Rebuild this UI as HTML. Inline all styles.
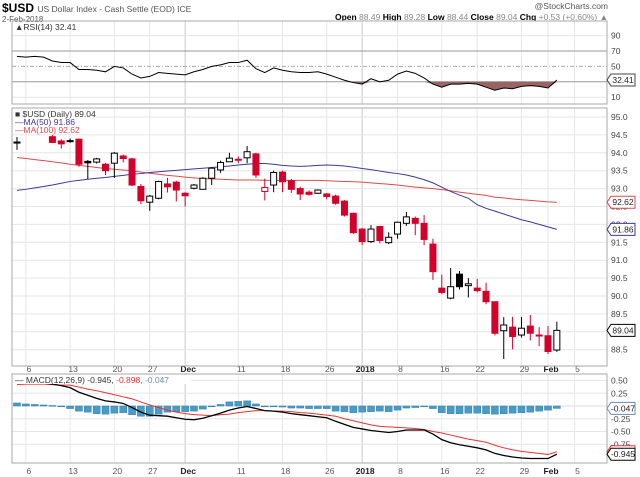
<!DOCTYPE html>
<html><head><meta charset="utf-8"><style>
html,body{margin:0;padding:0;background:#fff;}
svg{display:block;font-family:"Liberation Sans",sans-serif;}
</style></head><body>
<svg id="chart" width="640" height="477" viewBox="0 0 640 477">
<text x="2" y="12" font-size="12" font-weight="bold" fill="#000">$USD <tspan font-size="8.5" font-weight="normal" fill="#555">US Dollar Index - Cash Settle (EOD) ICE</tspan></text>
<text x="2" y="22" font-size="8" fill="#555">2-Feb-2018</text>
<text x="608" y="9" font-size="8.5" fill="#555" text-anchor="end">@StockCharts.com</text>
<text x="608" y="20" font-size="8.5" fill="#888" text-anchor="end"><tspan font-weight="bold" fill="#000">Open</tspan> 88.49 <tspan font-weight="bold" fill="#000">High</tspan> 89.28 <tspan font-weight="bold" fill="#000">Low</tspan> 88.44 <tspan font-weight="bold" fill="#000">Close</tspan> 89.04 <tspan font-weight="bold" fill="#000">Chg</tspan> +0.53 (+0.60%) ▲</text>
<g id="g"></g>
</svg>
<script>
const dayLabels=["6","13","20","27","Dec","11","18","26","2018","8","16","22","29","Feb","5"];
const dayLabelIdx=[1,6,11,15,19,25,30,35,39,43,48,52,57,60,63];
const openV=[94.3,94.65,94.8,94.7,94.45,94.33,94.34,94.38,93.76,93.74,93.68,93.71,93.91,93.83,93.06,92.62,92.73,93.13,93.18,92.87,93.01,92.98,93.29,93.52,93.75,93.82,93.86,93.97,92.92,93.10,93.46,93.22,93.0,92.9,92.87,92.85,92.79,92.65,92.31,91.87,91.52,91.94,91.49,91.73,92.03,92.17,92.03,91.45,90.22,89.94,90.61,90.29,90.22,90.13,89.84,89.03,89.13,88.91,89.16,88.91,88.89,88.49];
const highV=[94.44,94.8,94.95,94.85,94.5,94.38,94.4,94.4,93.8,93.86,93.72,94.02,93.95,93.86,93.13,92.82,93.22,93.3,93.22,92.9,93.13,93.32,93.6,93.78,94.0,93.9,94.19,94.0,93.28,93.5,93.5,93.27,93.05,92.95,92.98,92.88,92.83,92.68,92.33,91.9,91.98,91.96,91.78,92.08,92.35,92.22,92.26,91.6,90.6,90.78,90.7,90.5,90.48,90.37,89.84,89.41,89.42,89.41,89.47,89.13,89.16,89.28];
const lowV=[94.08,94.6,94.65,94.6,94.27,94.12,94.28,93.61,93.27,93.7,93.38,93.3,93.73,93.07,92.57,92.38,92.7,92.89,92.64,92.5,92.98,92.98,93.1,93.44,93.76,93.71,93.71,93.3,92.67,92.9,92.9,92.88,92.68,92.8,92.85,92.7,92.55,92.22,91.73,91.42,91.48,91.47,91.45,91.6,91.96,91.7,91.42,90.45,90.05,89.91,90.18,89.96,90.1,89.77,88.9,88.24,88.51,88.84,88.76,88.6,88.38,88.44];
const closeV=[94.3,94.75,94.72,94.62,94.29,94.25,94.34,93.68,93.72,93.83,93.5,93.99,93.84,93.10,92.66,92.79,93.2,93.05,92.96,92.80,93.10,93.29,93.57,93.73,93.85,93.82,94.03,93.38,93.03,93.45,93.19,92.98,92.85,92.84,92.96,92.78,92.59,92.26,91.77,91.52,91.87,91.55,91.64,92.06,92.21,92.03,91.58,90.68,90.10,90.26,90.26,90.34,90.15,89.84,88.96,89.19,88.87,89.10,88.96,88.91,88.45,89.04];
const ma50=[92.95,92.98,93.02,93.06,93.10,93.15,93.20,93.23,93.26,93.29,93.31,93.34,93.37,93.40,93.42,93.45,93.47,93.49,93.51,93.53,93.55,93.57,93.59,93.61,93.63,93.66,93.68,93.70,93.70,93.68,93.65,93.63,93.62,93.63,93.65,93.66,93.65,93.63,93.60,93.56,93.53,93.49,93.45,93.42,93.38,93.32,93.25,93.16,93.04,92.92,92.82,92.73,92.55,92.45,92.37,92.29,92.21,92.13,92.07,92.00,91.93,91.86];
const ma100=[93.87,93.84,93.81,93.78,93.75,93.72,93.68,93.65,93.62,93.59,93.56,93.54,93.52,93.50,93.46,93.43,93.40,93.37,93.35,93.32,93.30,93.28,93.27,93.26,93.25,93.24,93.24,93.24,93.23,93.23,93.23,93.23,93.23,93.23,93.23,93.22,93.21,93.20,93.19,93.18,93.16,93.14,93.12,93.10,93.07,93.04,93.02,93.00,92.97,92.94,92.90,92.87,92.84,92.81,92.76,92.74,92.71,92.69,92.67,92.65,92.63,92.62];
const rsiV=[63,62,63,62,57,55,55,46,46,45,43,50,48,40,35,37,42,41,40,39,43,46,50,52,55,55,58,47,42,48,45,43,42,42,43,40,36,32,29,27,34,30,32,40,44,41,35,27,23,27,27,28,27,23,19,22,21,24,25,24,22,32.41];
const macdV=[0.48,0.47,0.46,0.45,0.43,0.40,0.36,0.27,0.21,0.15,0.10,0.08,0.05,-0.03,-0.12,-0.18,-0.19,-0.20,-0.23,-0.26,-0.27,-0.24,-0.19,-0.14,-0.08,-0.04,-0.01,-0.05,-0.09,-0.10,-0.12,-0.15,-0.17,-0.19,-0.21,-0.23,-0.30,-0.36,-0.42,-0.45,-0.48,-0.50,-0.52,-0.50,-0.47,-0.47,-0.47,-0.55,-0.66,-0.72,-0.76,-0.79,-0.82,-0.86,-0.93,-0.97,-1.00,-1.02,-1.03,-1.03,-1.03,-0.945];
const signalV=[0.42,0.43,0.43,0.43,0.42,0.41,0.41,0.37,0.33,0.30,0.26,0.22,0.18,0.14,0.08,0.02,-0.03,-0.08,-0.12,-0.15,-0.17,-0.18,-0.19,-0.17,-0.16,-0.13,-0.11,-0.09,-0.09,-0.10,-0.10,-0.11,-0.13,-0.14,-0.16,-0.18,-0.20,-0.25,-0.29,-0.33,-0.37,-0.40,-0.41,-0.42,-0.43,-0.44,-0.46,-0.50,-0.53,-0.57,-0.61,-0.65,-0.68,-0.71,-0.77,-0.82,-0.86,-0.89,-0.91,-0.93,-0.95,-0.898];
const priceTicks=[95.0,94.5,94.0,93.5,93.0,92.5,92.0,91.5,91.0,90.5,90.0,89.5,89.0,88.5];
const rsiTicks=[90,70,50,30,10];
const macdTicks=[0.5,0.25,0,-0.25,-0.5,-0.75];

const NS="http://www.w3.org/2000/svg";
const G=document.getElementById('g');
const L=12,R=607;
const xs=i=>17+8.85*i;
const yP=p=>117+(95-p)*35.8;
const yR=v=>51+(70-v)*0.77;
const yM=v=>406-v*51;
function mk(t,a,parent){const e=document.createElementNS(NS,t);for(const k in a)e.setAttribute(k,a[k]);(parent||G).appendChild(e);return e;}
function txt(x,y,s,a){const e=mk('text',Object.assign({x:x,y:y,'font-size':8.5,fill:'#444'},a||{}));e.textContent=s;return e;}

const panels=[[21,104,'rsi-panel'],[108,366,'price-panel'],[374,463,'macd-panel']];
panels.forEach(p=>{
  dayLabelIdx.forEach((d,k)=>{
    const dark=(dayLabels[k]==='Dec'||dayLabels[k]==='2018');
    const l=mk('line',{x1:xs(d),x2:xs(d),y1:p[0],y2:p[1],stroke:dark?'#c8c8c8':'#e6e6e6','stroke-width':1});
    
    
  });
});
priceTicks.forEach(t=>{
  const l=mk('line',{x1:L,x2:R,y1:yP(t),y2:yP(t),stroke:'#e6e6e6'});
  
  
  const e=txt(611,yP(t)+3,t.toFixed(1));
  
  
});
rsiTicks.forEach(t=>{
  const strong=(t===70||t===30);
  const l=mk('line',{x1:L,x2:R,y1:yR(t),y2:yR(t),stroke:strong?'#999':(t===50?'#aaa':'#e6e6e6'),'stroke-dasharray':t===50?'4,2,1,2':'none'});
  
  
  if(t!==30){const e=txt(611,yR(t)+3,String(t));
  
  }
});
macdTicks.forEach(t=>{
  const l=mk('line',{x1:L,x2:R,y1:yM(t),y2:yM(t),stroke:t===0?'#ddd':'#e6e6e6'});
  
  
  if(t!==0){const e=txt(611,yM(t)+3,t.toFixed(2));
  
  }
});
let fillPts=[];
rsiV.forEach((v,i)=>fillPts.push(xs(i)+','+yR(Math.min(v,30))));
const rf=mk('polygon',{points:xs(0)+','+yR(30)+' '+fillPts.join(' ')+' '+xs(rsiV.length-1)+','+yR(30),fill:'#9a6464'});


const rl=mk('polyline',{points:rsiV.map((v,i)=>xs(i)+','+yR(v)).join(' '),fill:'none',stroke:'#000','stroke-width':1});


const m1=mk('polyline',{points:ma100.map((v,i)=>xs(i)+','+yP(v)).join(' '),fill:'none',stroke:'#e04a4a','stroke-width':1});


const m2=mk('polyline',{points:ma50.map((v,i)=>xs(i)+','+yP(v)).join(' '),fill:'none',stroke:'#3a3a9a','stroke-width':1});


closeV.forEach((c,i)=>{
  const o=openV[i],prev=i>0?closeV[i-1]:o;
  const col=(c<prev)?'#d2002a':'#000';
  const hollow=c>o;
  const w=mk('line',{x1:xs(i),x2:xs(i),y1:yP(highV[i]),y2:yP(lowV[i]),stroke:col,'stroke-width':1});
  
  
  const top=yP(Math.max(o,c)),bot=yP(Math.min(o,c));
  const b=mk('rect',{x:xs(i)-3,y:top,width:6,height:Math.max(1,bot-top),fill:hollow?'#fff':col,stroke:col,'stroke-width':1});
  
  
});
macdV.forEach((m,i)=>{
  const h=m-signalV[i];
  const y0=yM(0),y1=yM(h);
  const b=mk('rect',{x:xs(i)-3.5,y:Math.min(y0,y1),width:7,height:Math.max(0.8,Math.abs(y1-y0)),fill:'#4a9cc8',stroke:'#2d7aa6','stroke-width':0.5});
  
  
});
const sl=mk('polyline',{points:signalV.map((v,i)=>xs(i)+','+yM(v)).join(' '),fill:'none',stroke:'#f03030','stroke-width':1});


const ml=mk('polyline',{points:macdV.map((v,i)=>xs(i)+','+yM(v)).join(' '),fill:'none',stroke:'#000','stroke-width':1.3});


dayLabelIdx.forEach((d,k)=>{
  const bold=(dayLabels[k]==='Dec'||dayLabels[k]==='2018'||dayLabels[k]==='Feb');
  [372,474].forEach(y=>{
    const e=txt(xs(d)+3,y,dayLabels[k],{'text-anchor':'middle','font-weight':bold?'bold':'normal',fill:bold?'#222':'#555'});
    
    
  });
});
function legend(x,y,w,h,name){const r=mk('rect',{x:x,y:y,width:w,height:h,fill:'#fff'});}
legend(13,22,60,9,'rsi-legend-bg');
let e=txt(15,30,'\u25B2RSI(14) 32.41',{fill:'#333'});


legend(13,109,80,25,'price-legend-bg');
e=txt(15,117,'\u25A0 $USD (Daily) 89.04',{fill:'#333'});


e=txt(15,125,'\u2014MA(50) 91.86',{fill:'#3a3a9a'});


e=txt(15,133,'\u2014MA(100) 92.62',{fill:'#e04a4a'});


legend(13,375,178,9,'macd-legend-bg');
e=txt(15,383,'',{fill:'#333'});
e.innerHTML='<tspan>\u2014 MACD(12,26,9) -0.945, </tspan><tspan fill="#f03030">-0.898, </tspan><tspan fill="#6a8ab8">-0.047</tspan>';


panels.forEach(p=>{
  const r=mk('rect',{x:L,y:p[0],width:R-L,height:p[1]-p[0],fill:'none',stroke:'#aaa','stroke-width':1});
  
  
});
function tag(y,s,col,name){
  const g=mk('g',{});
  
  
  mk('polygon',{points:`${R},${y} ${R+4},${y-6} ${R+28},${y-6} ${R+28},${y+6} ${R+4},${y+6}`,fill:'#fff',stroke:col,'stroke-width':1},g);
  const t=mk('text',{x:R+16,y:y+3,'font-size':8.5,'text-anchor':'middle',fill:'#222'},g);t.textContent=s;
}
tag(yR(32.41),'32.41','#444','rsi-value-tag');
tag(yP(92.62),'92.62','#e04a4a','ma100-value-tag');
tag(yP(91.86),'91.86','#3a3a9a','ma50-value-tag');
tag(yP(89.04),'89.04','#000','close-value-tag');
tag(yM(-0.047),'-0.047','#6a8ab8','histogram-value-tag');
tag(yM(-0.898),'-0.898','#f03030','signal-value-tag');
tag(yM(-0.945),'-0.945','#000','macd-value-tag');
</script>
</body></html>
